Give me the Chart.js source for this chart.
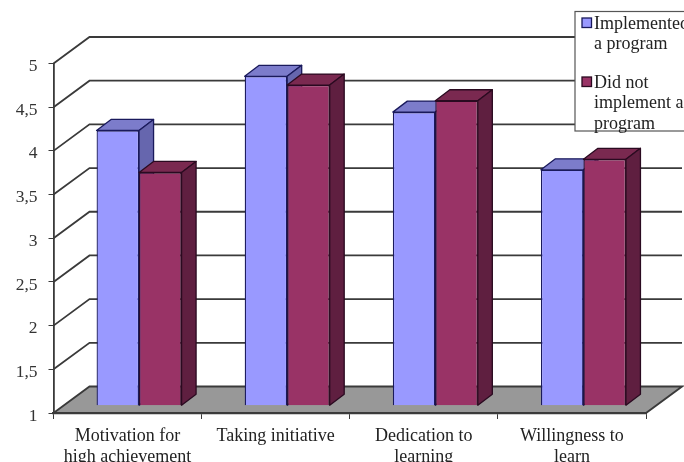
<!DOCTYPE html>
<html>
<head>
<meta charset="utf-8">
<script src="https://cdn.jsdelivr.net/npm/chart.js@4"></script>
<style>
html,body{margin:0;padding:0;background:#fff;overflow:hidden}
canvas{display:block;filter:blur(0.45px)}
</style>
</head>
<body>
<canvas id="c" width="684" height="462"></canvas>
<script>
const categories = [["Motivation for","high achievement"],"Taking initiative",["Dedication to","learning"],["Willingness to","learn"]];
const implementedValues = [4.15, 4.77, 4.36, 3.70];
const notImplementedValues = [3.67, 4.67, 4.49, 3.82];
const seriesLabels = [["Implemented","a program"],["Did not","implement a","program"]];
const serif = "'Liberation Serif','Times New Roman',serif";
const wallDx = 36, wallDy = -26.5;
const barShiftX = 11.5, barShiftY = -7.3, barDx = 14.5, barDy = -11;
const faces = [
  {front:"#9999FF", top:"#7C7CCB", side:"#6666AE", edge:"#1A1A5C"},
  {front:"#993366", top:"#7A2950", side:"#5F1F40", edge:"#2A0A20"}
];
const lineColor = "#3a3a3a";
const swatchTops = [18, 77];

const scene = {
  id:"scene",
  beforeDraw(chart){
    const {ctx, scales:{x,y}} = chart;
    const L = x.left, R = x.right, B = y.getPixelForValue(1);
    ctx.save();
    ctx.beginPath();
    ctx.moveTo(L,B); ctx.lineTo(L+wallDx,B+wallDy); ctx.lineTo(R+wallDx,B+wallDy); ctx.lineTo(R,B); ctx.closePath();
    ctx.fillStyle = "#989898"; ctx.fill();
    ctx.strokeStyle = lineColor; ctx.lineWidth = 1.8; ctx.stroke();
    y.ticks.forEach(t=>{
      if(t.value===1) return;
      const p = y.getPixelForValue(t.value);
      ctx.beginPath();
      ctx.moveTo(L,p); ctx.lineTo(L+wallDx,p+wallDy); ctx.lineTo(R+wallDx,p+wallDy);
      ctx.stroke();
    });
    ctx.fillStyle="#fff"; ctx.strokeStyle="#555"; ctx.lineWidth=1.2;
    ctx.fillRect(575,11.5,120,119.5); ctx.strokeRect(575,11.5,120,119.5);
    swatchTops.forEach((top,i)=>{
      ctx.fillStyle=faces[i].front; ctx.strokeStyle=faces[i].edge; ctx.lineWidth=1.3;
      ctx.fillRect(582,top,9.5,9.5); ctx.strokeRect(582,top,9.5,9.5);
    });
    ctx.restore();
  },
  beforeDatasetsDraw(chart){
    const {ctx} = chart;
    [0,1].forEach(i=>{
      const meta = chart.getDatasetMeta(i), f = faces[i];
      ctx.save();
      ctx.translate(barShiftX,barShiftY);
      meta.controller.draw();
      ctx.lineWidth = 1.3; ctx.strokeStyle = f.edge; ctx.lineJoin="round";
      meta.data.forEach(el=>{
        const l = el.x-el.width/2, r = el.x+el.width/2, t = el.y, b = el.base;
        ctx.beginPath();
        ctx.moveTo(l,t); ctx.lineTo(l+barDx,t+barDy); ctx.lineTo(r+barDx,t+barDy); ctx.lineTo(r,t); ctx.closePath();
        ctx.fillStyle = f.top; ctx.fill(); ctx.stroke();
        ctx.beginPath();
        ctx.moveTo(r,t); ctx.lineTo(r+barDx,t+barDy); ctx.lineTo(r+barDx,b+barDy); ctx.lineTo(r,b); ctx.closePath();
        ctx.fillStyle = f.side; ctx.fill(); ctx.stroke();
      });
      ctx.restore();
    });
    return false;
  },
  afterLayout(chart){
    const lg = chart.legend;
    lg.left = 566; lg.right = 720; lg.top = -3; lg.bottom = 300; lg.width = 154; lg.height = 303;
  }
};

new Chart(document.getElementById("c"),{
  type:"bar",
  data:{labels:categories,datasets:[
    {label:seriesLabels[0],data:implementedValues,base:1,backgroundColor:faces[0].front,borderColor:faces[0].edge,borderWidth:1.3},
    {label:seriesLabels[1],data:notImplementedValues,base:1,backgroundColor:faces[1].front,borderColor:faces[1].edge,borderWidth:1.3}
  ]},
  plugins:[scene],
  options:{
    responsive:false,animation:false,
    categoryPercentage:0.574,barPercentage:1,
    layout:{padding:{top:63.5,right:38,left:0,bottom:0}},
    plugins:{
      tooltip:{enabled:false},
      legend:{
        position:"chartArea",align:"start",
        labels:{
          font:{family:serif,size:18,lineHeight:1.14},color:"#222",
          boxWidth:1,boxHeight:1,padding:18,
          generateLabels:(c)=>c.data.datasets.map((d,i)=>({
            text:d.label,fillStyle:"rgba(0,0,0,0)",strokeStyle:"rgba(0,0,0,0)",lineWidth:0,datasetIndex:i,hidden:false,fontColor:"#222"
          }))
        }
      }
    },
    scales:{
      x:{
        afterFit:s=>{s.height=49;},
        grid:{drawOnChartArea:false,drawTicks:true,tickLength:6,color:lineColor,offset:true},
        border:{color:lineColor,width:2.2},
        ticks:{autoSkip:false,maxRotation:0,padding:7,color:"#222",font:{family:serif,size:18,lineHeight:1.14}}
      },
      y:{
        min:1,max:5,
        afterFit:s=>{s.width=53.5;},
        grid:{drawOnChartArea:false,drawTicks:true,tickLength:5,color:lineColor},
        border:{color:lineColor,width:1.8},
        ticks:{stepSize:0.5,padding:11,labelOffset:3,color:"#333",font:{family:serif,size:17.5},callback:v=>String(v).replace(".",",")}
      }
    }
  }
});
</script>
</body>
</html>
